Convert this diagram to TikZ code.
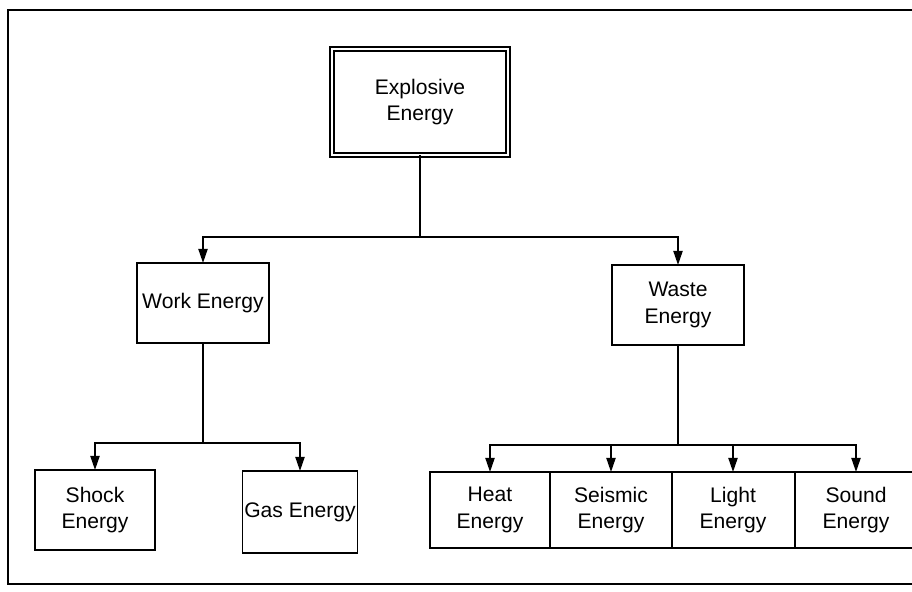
\documentclass[tikz,border=0pt]{standalone}
\usepackage{fontspec}
\setmainfont{Liberation Sans}
\usetikzlibrary{arrows.meta}

\begin{document}
\begin{tikzpicture}[x=0.025cm, y=-0.025cm,
  box/.style={draw, line width=1.2pt, inner sep=0pt, outer sep=0pt, align=center,
    font=\fontsize{15}{19}\selectfont},
  arr/.style={line width=1.2pt, -{Triangle[length=10pt,width=6.5pt]}}]
\clip (0,0) rectangle (912,591);
\draw[line width=1.6pt] (8,10) rectangle (940,584);

% top
\node[box, double, double distance=1.3pt, minimum width=4.4cm, minimum height=2.65cm]
  (explosive) at (420,102) {Explosive\\Energy};
\node[box, minimum width=3.3cm, minimum height=2cm] (work) at (203,303) {Work Energy};
\node[box, minimum width=3.3cm, minimum height=2cm] (waste) at (678,305) {Waste\\Energy};

% work energy row
\node[box, minimum width=3cm, minimum height=2cm] (shock) at (95,510) {Shock\\Energy};
\node[box, minimum width=2.875cm, minimum height=2.05cm] (gas) at (300,512) {Gas Energy};

% waste energy row
\node[box, minimum width=3cm, minimum height=1.9cm] (heat) at (490,510) {Heat\\Energy};
\node[box, minimum width=3.05cm, minimum height=1.9cm] (seismic) at (611,510) {Seismic\\Energy};
\node[box, minimum width=3.075cm, minimum height=1.9cm] (light) at (733,510) {Light\\Energy};
\node[box, minimum width=3.05cm, minimum height=1.9cm] (sound) at (856,510) {Sound\\Energy};

\coordinate (j1) at (explosive.south |- 0,237);
\coordinate (j2) at (work.south |- 0,443);
\coordinate (j3) at (waste.south |- 0,445);

\draw[line width=1.2pt] (explosive) -- (j1);
\draw[arr] (j1) -| (work);
\draw[arr] (j1) -| (waste);

\draw[line width=1.2pt] (work) -- (j2);
\draw[arr] (j2) -| (shock);
\draw[arr] (j2) -| (gas);

\draw[line width=1.2pt] (waste) -- (j3);
\foreach \n in {heat, seismic, light, sound}
  \draw[arr] (j3) -| (\n);

\end{tikzpicture}
\end{document}
